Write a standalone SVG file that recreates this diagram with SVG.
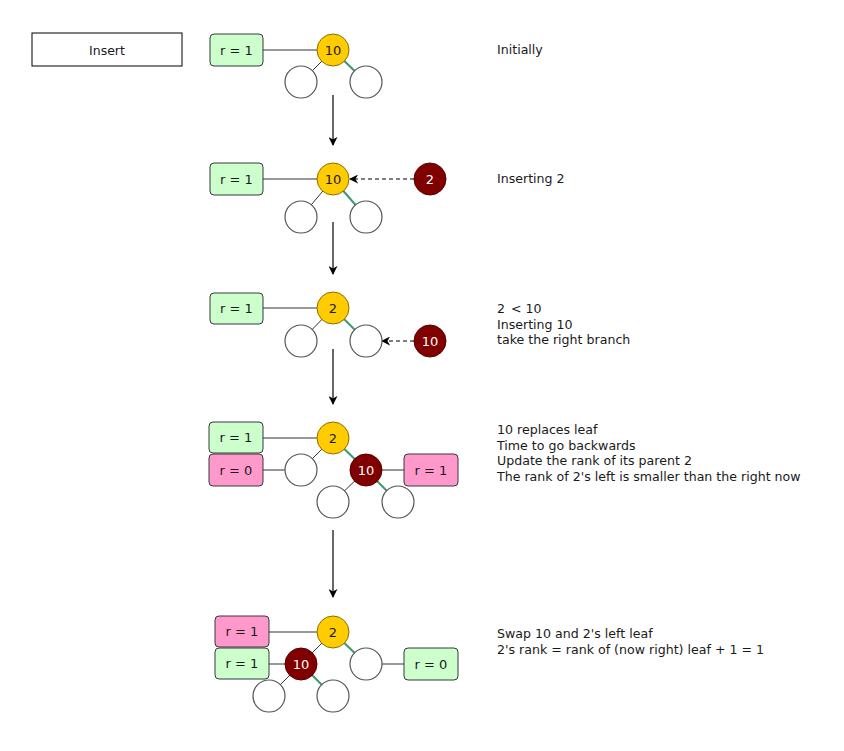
<svg xmlns="http://www.w3.org/2000/svg" width="844" height="751" viewBox="0 0 844 751">
<style>
text{font-family:"DejaVu Sans","Liberation Sans",sans-serif;font-size:13px;fill:#1a1a1a}
.lbl{text-anchor:middle;dominant-baseline:central}
.note{font-size:12.6px}
.ttl{font-size:12.5px}
.gbox{fill:#ccffcc;stroke:#36393d;stroke-width:1}
.pbox{fill:#ff99cc;stroke:#36393d;stroke-width:1}
.leaf{fill:#ffffff;stroke:#555555;stroke-width:1.2}
.yel{fill:#ffcc00;stroke:#8a7000;stroke-width:1}
.red{fill:#800000;stroke:#5a0000;stroke-width:1}
.wt{fill:#ffffff}
.e{stroke:#333333;stroke-width:1;fill:none}
.g{stroke:#3d9970;stroke-width:2;fill:none}
.flow{stroke:#000;stroke-width:1.2;fill:none;marker-end:url(#ah)}
.dash{stroke:#000;stroke-width:1;fill:none;stroke-dasharray:4 3;marker-end:url(#ah)}
</style>
<defs>
<marker id="ah" viewBox="0 0 10 10" refX="9" refY="5" markerWidth="9" markerHeight="9" markerUnits="userSpaceOnUse" orient="auto">
<path d="M0,0 L10,5 L0,10 L3,5 Z" fill="#000"/>
</marker>
</defs>

<g id="insert-title">
<rect x="32" y="33" width="150" height="33" fill="#fff" stroke="#000" stroke-width="1"/>
<text x="107" y="50" class="lbl ttl">Insert</text>
</g>

<g id="connectors">
<!-- row 1 -->
<line class="e" x1="263" y1="50" x2="317" y2="50"/>
<line class="e" x1="333" y1="50" x2="301" y2="82"/>
<line class="g" x1="333" y1="50" x2="366" y2="82"/>
<!-- row 2 -->
<line class="e" x1="263" y1="179" x2="317" y2="179"/>
<line class="e" x1="333" y1="179" x2="301" y2="217"/>
<line class="g" x1="333" y1="179" x2="366" y2="217"/>
<line class="dash" x1="414" y1="179" x2="350" y2="179"/>
<!-- row 3 -->
<line class="e" x1="263" y1="308" x2="317" y2="308"/>
<line class="e" x1="333" y1="308" x2="301" y2="341"/>
<line class="g" x1="333" y1="308" x2="366" y2="341"/>
<line class="dash" x1="414" y1="341" x2="382" y2="341"/>
<!-- row 4 -->
<line class="e" x1="263" y1="438" x2="317" y2="438"/>
<line class="e" x1="333" y1="438" x2="301" y2="470"/>
<line class="g" x1="333" y1="438" x2="366" y2="470"/>
<line class="e" x1="263" y1="470" x2="285" y2="470"/>
<line class="e" x1="382" y1="470" x2="404" y2="470"/>
<line class="e" x1="366" y1="470" x2="333" y2="502"/>
<line class="g" x1="366" y1="470" x2="398" y2="502"/>
<!-- row 5 -->
<line class="e" x1="269" y1="632" x2="317" y2="632"/>
<line class="e" x1="333" y1="632" x2="301" y2="664"/>
<line class="g" x1="333" y1="632" x2="366" y2="664"/>
<line class="e" x1="269" y1="664" x2="285" y2="664"/>
<line class="e" x1="382" y1="664" x2="404" y2="664"/>
<line class="e" x1="301" y1="664" x2="269" y2="696"/>
<line class="g" x1="301" y1="664" x2="333" y2="696"/>
<!-- flow arrows -->
<line class="flow" x1="333" y1="95" x2="333" y2="145"/>
<line class="flow" x1="333" y1="222" x2="333" y2="274"/>
<line class="flow" x1="333" y1="349" x2="333" y2="404"/>
<line class="flow" x1="333" y1="530" x2="333" y2="597"/>
</g>

<!-- Row 1 -->
<g id="r1-rank"><rect class="gbox" x="210" y="34" width="53" height="32" rx="4"/><text x="236.5" y="50" class="lbl">r = 1</text></g>
<g id="r1-n10"><circle class="yel" cx="333" cy="50" r="16"/><text x="333" y="50" class="lbl">10</text></g>
<g id="r1-leafL"><circle class="leaf" cx="301" cy="82" r="16"/></g>
<g id="r1-leafR"><circle class="leaf" cx="366" cy="82" r="16"/></g>
<g id="r1-note"><text x="497" y="54" class="note">Initially</text></g>

<!-- Row 2 -->
<g id="r2-rank"><rect class="gbox" x="210" y="163" width="53" height="32" rx="4"/><text x="236.5" y="179" class="lbl">r = 1</text></g>
<g id="r2-n10"><circle class="yel" cx="333" cy="179" r="16"/><text x="333" y="179" class="lbl">10</text></g>
<g id="r2-leafL"><circle class="leaf" cx="301" cy="217" r="16"/></g>
<g id="r2-leafR"><circle class="leaf" cx="366" cy="217" r="16"/></g>
<g id="r2-n2"><circle class="red" cx="430" cy="179" r="16"/><text x="430" y="179" class="lbl wt">2</text></g>
<g id="r2-note"><text x="497" y="183" class="note">Inserting 2</text></g>

<!-- Row 3 -->
<g id="r3-rank"><rect class="gbox" x="210" y="293" width="53" height="31" rx="4"/><text x="236.5" y="308" class="lbl">r = 1</text></g>
<g id="r3-n2"><circle class="yel" cx="333" cy="308" r="16"/><text x="333" y="308" class="lbl">2</text></g>
<g id="r3-leafL"><circle class="leaf" cx="301" cy="341" r="16"/></g>
<g id="r3-leafR"><circle class="leaf" cx="366" cy="341" r="16"/></g>
<g id="r3-n10"><circle class="red" cx="430" cy="341" r="16"/><text x="430" y="341" class="lbl wt">10</text></g>
<g id="r3-note"><text x="497" y="313" class="note">2 <tspan dx="2">&lt; 10</tspan></text><text x="497" y="328.5" class="note">Inserting 10</text><text x="497" y="344" class="note">take the right branch</text></g>

<!-- Row 4 -->
<g id="r4-rank2"><rect class="gbox" x="209" y="422" width="54" height="31" rx="4"/><text x="236" y="437.5" class="lbl">r = 1</text></g>
<g id="r4-rankL"><rect class="pbox" x="209" y="454" width="54" height="32" rx="4"/><text x="236" y="470" class="lbl">r = 0</text></g>
<g id="r4-n2"><circle class="yel" cx="333" cy="438" r="16"/><text x="333" y="438" class="lbl">2</text></g>
<g id="r4-leafL"><circle class="leaf" cx="301" cy="470" r="16"/></g>
<g id="r4-n10"><circle class="red" cx="366" cy="470" r="16"/><text x="366" y="470" class="lbl wt">10</text></g>
<g id="r4-rank10"><rect class="pbox" x="404" y="454" width="54" height="32" rx="4"/><text x="431" y="470" class="lbl">r = 1</text></g>
<g id="r4-leafLL"><circle class="leaf" cx="333" cy="502" r="16"/></g>
<g id="r4-leafLR"><circle class="leaf" cx="398" cy="502" r="16"/></g>
<g id="r4-note"><text x="497" y="434" class="note">10 replaces leaf</text><text x="497" y="449.5" class="note">Time to go backwards</text><text x="497" y="465" class="note">Update the rank of its parent 2</text><text x="497" y="480.5" class="note">The rank of 2's left is smaller than the right now</text></g>

<!-- Row 5 -->
<g id="r5-rank2"><rect class="pbox" x="215" y="616" width="54" height="31" rx="4"/><text x="242" y="631.5" class="lbl">r = 1</text></g>
<g id="r5-rank10"><rect class="gbox" x="215" y="648" width="54" height="31" rx="4"/><text x="242" y="663.5" class="lbl">r = 1</text></g>
<g id="r5-n2"><circle class="yel" cx="333" cy="632" r="16"/><text x="333" y="632" class="lbl">2</text></g>
<g id="r5-n10"><circle class="red" cx="301" cy="664" r="16"/><text x="301" y="664" class="lbl wt">10</text></g>
<g id="r5-leafR"><circle class="leaf" cx="366" cy="664" r="16"/></g>
<g id="r5-rankR"><rect class="gbox" x="404" y="648" width="54" height="32" rx="4"/><text x="431" y="664" class="lbl">r = 0</text></g>
<g id="r5-leafLL"><circle class="leaf" cx="269" cy="696" r="16"/></g>
<g id="r5-leafLR"><circle class="leaf" cx="333" cy="696" r="16"/></g>
<g id="r5-note"><text x="497" y="638" class="note">Swap 10 and 2's left leaf</text><text x="497" y="654" class="note">2's rank = rank of (now right) leaf + 1 = 1</text></g>
</svg>
